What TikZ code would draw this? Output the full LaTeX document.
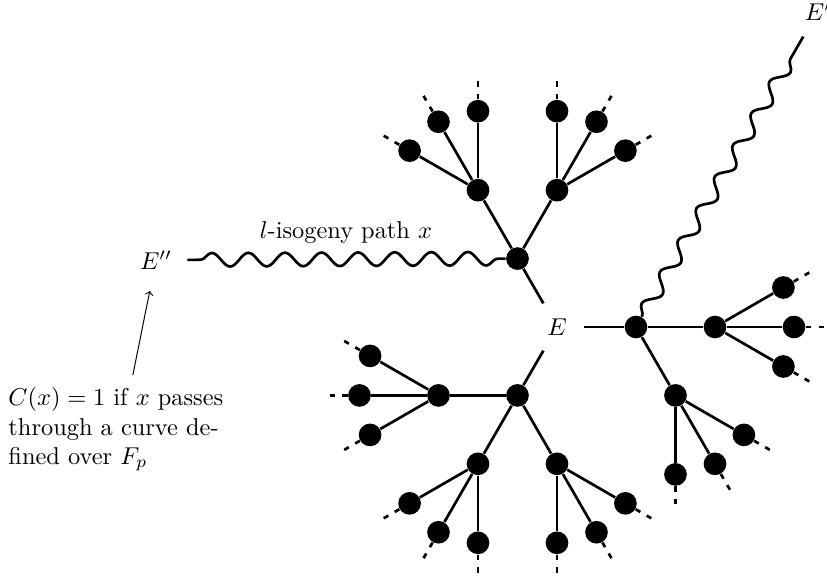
\documentclass[tikz,border=0pt]{standalone}
\usetikzlibrary{calc,decorations.pathmorphing}
\begin{document}
\begin{tikzpicture}[x=0.41pt,y=0.41pt,
  vertex/.style={circle,fill=black,inner sep=0pt,minimum size=9.3pt},
  edge/.style={line width=1.1pt},
  stub/.style={line width=1.1pt,dash pattern=on 2.2pt off 3pt},
  isog/.style={line width=1.1pt,decorate,
    decoration={snake,segment length=15pt,amplitude=2.8pt}},
  curvelabel/.style={circle,inner sep=0pt}]
\useasboundingbox (0,-576) rectangle (827,0);

% the base curve E and its three neighbours
\node[curvelabel,minimum size=22pt] (E) at (557,-327) {$E$};
\foreach \n/\d in {a/120,b/0,c/240}{
  \node[vertex] (\n) at ($(E)+(\d:79)$) {};
  \draw[edge] (E) -- (\n);
}

% second and third levels of the isogeny tree, with dashed continuations
\foreach \p/\n/\d in {a/a1/120,a/a2/60,b/b1/0,b/b2/-60,c/c1/180,c/c2/240,c/c3/300}{
  \node[vertex] (\n) at ($(\p)+(\d:79)$) {};
  \draw[edge] (\p) -- (\n);
  \foreach \k/\o in {1/30,2/0,3/-30}{
    \pgfmathtruncatemacro\t{\d+\o}
    \node[vertex] (\n-\k) at ($(\n)+(\t:79)$) {};
    \draw[edge] (\n) -- (\n-\k);
    \draw[stub] (\n-\k.\t) -- ++(\t:19);
  }
}

% long isogeny paths
\node[curvelabel,minimum size=25.4pt] (Epp) at (156,-260) {$E''$};
\node[curvelabel,minimum size=23.8pt] (Ep) at (818,-11) {$E'$};
\draw[isog,decoration={pre length=5.3pt}] (Epp) -- (a);
\draw[isog,decoration={post length=5pt}] (b) -- (Ep);
\node[anchor=base] (pathlbl) at (346,-238) {$l$-isogeny path $x$};

% annotation
\node[anchor=north west,inner sep=0pt,align=left] (note) at (8,-387)
  {$C(x) = 1$ if $x$ passes\\through a curve de-\\fined over $F_p$};
\draw[->,line width=0.4pt] ([shift={(17,12)}]note.north) -- (Epp);
\end{tikzpicture}
\end{document}
